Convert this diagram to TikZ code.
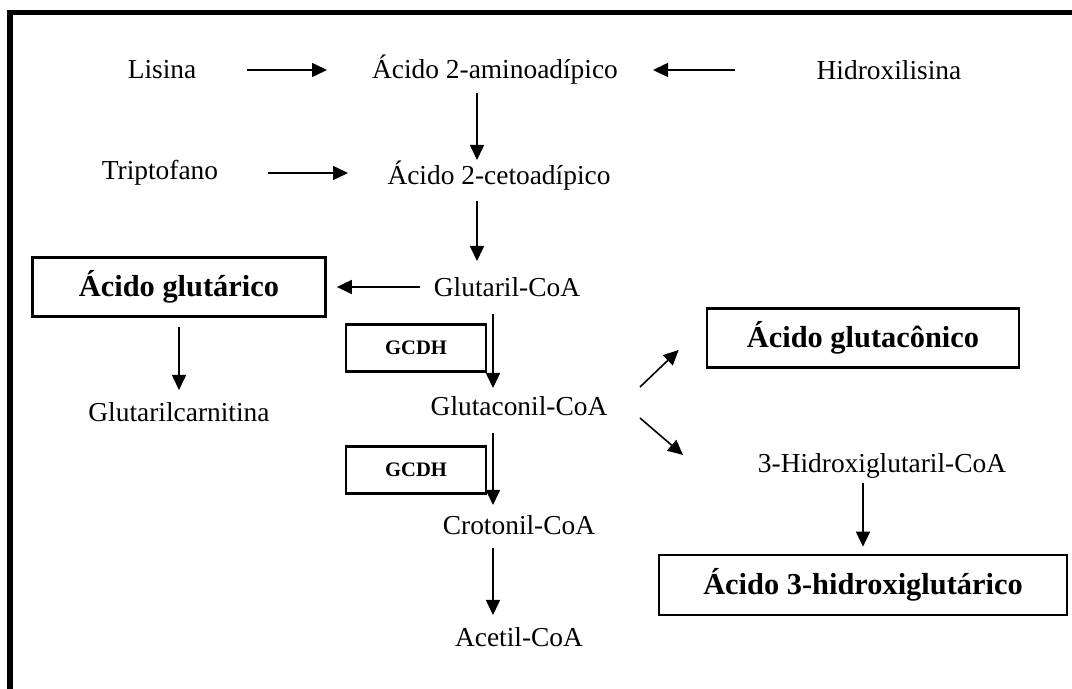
\documentclass[tikz,border=0pt]{standalone}
\usepackage{fontspec}
\setmainfont{Liberation Serif}
\usetikzlibrary{arrows.meta}

\tikzset{
  met/.style={inner sep=0pt, font=\fontsize{13.7}{16}\selectfont},
  acid/.style={draw, line width=1.35pt, inner sep=0pt, font=\fontsize{15.2}{18}\selectfont\bfseries},
  enz/.style={draw, line width=1.35pt, inner sep=0pt, minimum width=70pt, minimum height=23.5pt, font=\fontsize{10.3}{12}\selectfont\bfseries},
  arr/.style={line width=0.8pt, -{Triangle[length=7.5pt,width=7pt]}}
}

\begin{document}
\begin{tikzpicture}[x=0.5pt,y=-0.5pt]
\useasboundingbox (0,0) rectangle (1072,689);
\draw[line width=2.8pt] (10,689) -- (10,12.5) -- (1072,12.5);

\node[met] (lis) at (162,70) {Lisina};
\node[met] (ami) at (495,70) {Ácido 2-aminoadípico};
\node[met] (hid) at (889,70) {Hidroxilisina};
\node[met] (tri) at (160,173) {Triptofano};
\node[met] (ceto) at (499,176) {Ácido 2-cetoadípico};
\node[met] (glu) at (507,287) {Glutaril-CoA};
\node[acid, minimum width=146.5pt, minimum height=29.5pt] (gac) at (179,287) {Ácido glutárico};
\node[met] (carn) at (179,412) {Glutarilcarnitina};
\node[enz] (gcdh1) at (416,348) {GCDH};
\node[met] (gcon) at (519,406) {Glutaconil-CoA};
\node[enz] (gcdh2) at (416,470) {GCDH};
\node[met] (crot) at (519,525) {Crotonil-CoA};
\node[met] (acet) at (519,637) {Acetil-CoA};
\node[acid, minimum width=156pt, minimum height=29.5pt] (gtc) at (863,338) {Ácido glutacônico};
\node[met] (hgc) at (882,466) {3-Hidroxiglutaril-CoA};
\node[acid, minimum width=204pt, minimum height=30pt] (h3) at (863,585) {Ácido 3-hidroxiglutárico};

\draw[arr, shorten <=42.5pt, shorten >=84pt] (lis.center) -- (ami.center);
\draw[arr, shorten <=77pt, shorten >=79pt] (hid.center) -- (ami.center);
\draw[arr, shorten <=11.5pt, shorten >=8pt] ([xshift=-9pt]ami.center) -- ([xshift=-11pt]ceto.center);
\draw[arr, shorten <=54pt, shorten >=75.5pt] (tri.center) -- (tri.center -| ceto.center);
\draw[arr, shorten <=12.5pt, shorten >=13pt] ([xshift=-11pt]ceto.center) -- ([xshift=-15pt]glu.center);
\draw[arr, shorten <=43.5pt, shorten >=5pt] (glu.center) -- (gac.east);
\draw[arr, shorten <=4.5pt, shorten >=11pt] (gac.south) -- (carn.center);
\draw[arr, shorten <=13.5pt, shorten >=9pt] ([xshift=-7pt]glu.center) -- ([xshift=-13pt]gcon.center);
\draw[arr, shorten <=13.5pt, shorten >=10pt] ([xshift=-13pt]gcon.center) -- ([xshift=-13pt]crot.center);
\draw[arr, shorten <=11.5pt, shorten >=11pt] ([xshift=-13pt]crot.center) -- ([xshift=-13pt]acet.center);
\draw[arr] ([shift={(60.5pt,9.5pt)}]gcon.center) -- ([shift={(-13.5pt,-6pt)}]gtc.west);
\draw[arr] ([shift={(60.5pt,-6pt)}]gcon.center) -- ([shift={(-99.5pt,5.5pt)}]hgc.center);
\draw[arr, shorten <=8.5pt, shorten >=3.5pt] ([xshift=-9.5pt]hgc.center) -- (h3.north);
\end{tikzpicture}
\end{document}
